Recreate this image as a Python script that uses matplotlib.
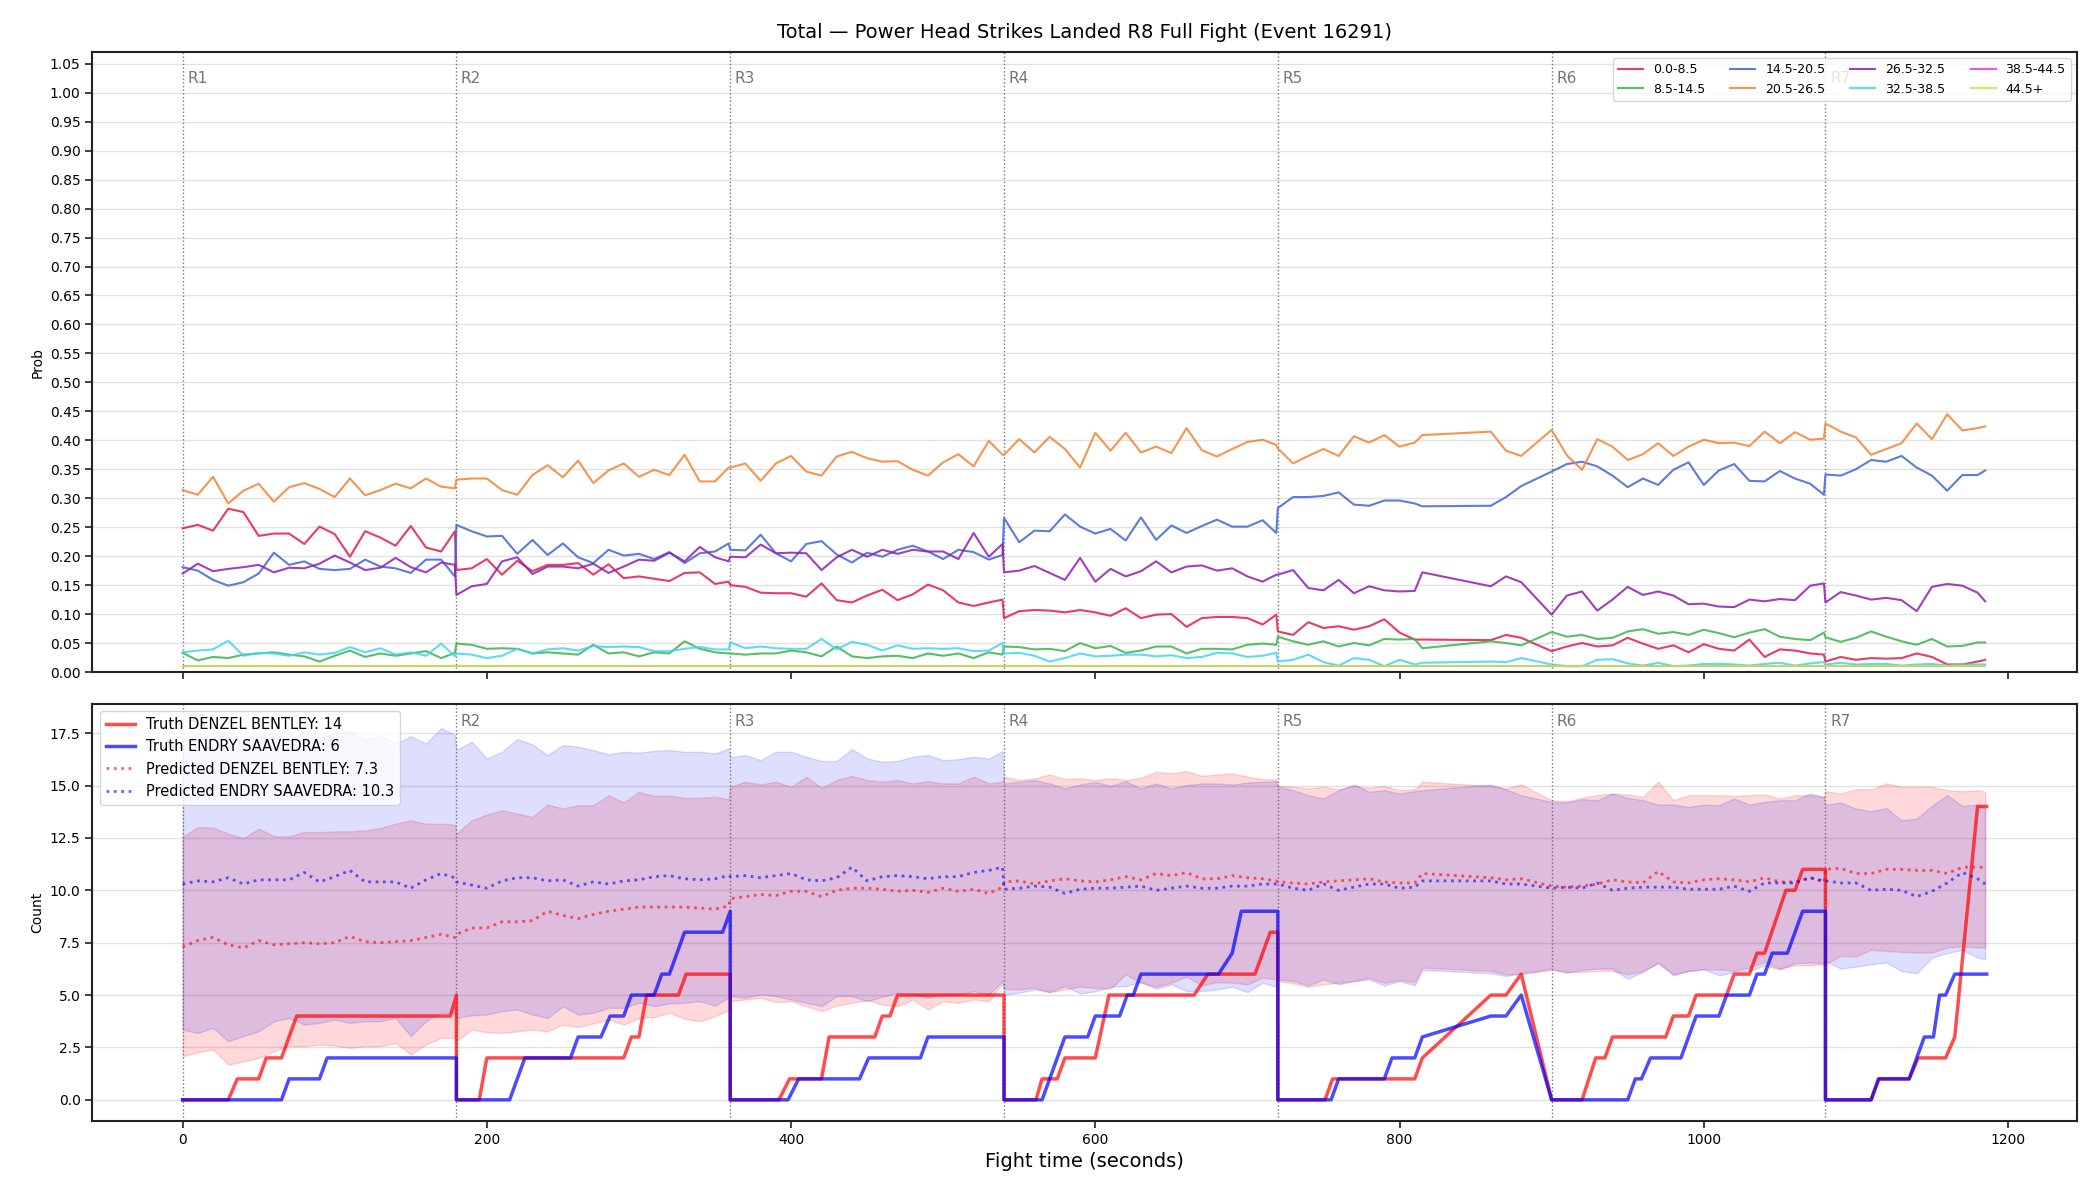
import numpy as np
import matplotlib
matplotlib.use("Agg")
import matplotlib.pyplot as plt
import matplotlib.transforms as mtransforms
from matplotlib.lines import Line2D

title = "Total \u2014 Power Head Strikes Landed R8 Full Fight (Event 16291)"
round_starts = [0, 180, 360, 540, 720, 900, 1080]
round_labels = ["R1", "R2", "R3", "R4", "R5", "R6", "R7"]

# sample times (seconds)
t = [0, 10, 20, 30, 40, 50, 60, 70, 80, 90, 100, 110, 120, 130, 140, 150, 160, 170, 179,
     180, 190, 200, 210, 220, 230, 240, 250, 260, 270, 280, 290, 300, 310, 320, 330, 340, 350, 359,
     360, 370, 380, 390, 400, 410, 420, 430, 440, 450, 460, 470, 480, 490, 500, 510, 520, 530, 539,
     540, 550, 560, 570, 580, 590, 600, 610, 620, 630, 640, 650, 660, 670, 680, 690, 700, 710, 719,
     720, 730, 740, 750, 760, 770, 780, 790, 800, 810, 815, 860, 870, 880,
     900, 910, 920, 930, 940, 950, 960, 970, 980, 990, 1000, 1010, 1020, 1030, 1040, 1050, 1060, 1070, 1079,
     1080, 1090, 1100, 1110, 1120, 1130, 1140, 1150, 1160, 1170, 1180, 1185]

bins = ["0.0-8.5", "8.5-14.5", "14.5-20.5", "20.5-26.5",
        "26.5-32.5", "32.5-38.5", "38.5-44.5", "44.5+"]
bin_colors = ["#e6194b", "#3cb44b", "#4363d8", "#f58231",
              "#911eb4", "#42d4f4", "#f032e6", "#bfef45"]

p_0_8 = [0.248, 0.254, 0.244, 0.282, 0.276, 0.235, 0.239, 0.239, 0.221, 0.251, 0.238, 0.199, 0.243, 0.232, 0.218, 0.252, 0.215, 0.208, 0.243,
         0.176, 0.179, 0.195, 0.168, 0.192, 0.174, 0.185, 0.185, 0.188, 0.168, 0.186, 0.162, 0.165, 0.161, 0.157, 0.171, 0.172, 0.152, 0.156,
         0.150, 0.147, 0.137, 0.136, 0.136, 0.130, 0.153, 0.124, 0.120, 0.132, 0.142, 0.124, 0.134, 0.151, 0.141, 0.120, 0.114, 0.120, 0.125,
         0.093, 0.105, 0.107, 0.106, 0.103, 0.107, 0.103, 0.097, 0.110, 0.093, 0.099, 0.100, 0.078, 0.093, 0.095, 0.095, 0.093, 0.082, 0.099,
         0.070, 0.064, 0.086, 0.076, 0.079, 0.073, 0.079, 0.091, 0.068, 0.056, 0.056, 0.055, 0.064, 0.059,
         0.036, 0.044, 0.050, 0.044, 0.046, 0.059, 0.049, 0.040, 0.046, 0.034, 0.048, 0.040, 0.037, 0.056, 0.026, 0.039, 0.037, 0.032, 0.030,
         0.018, 0.026, 0.021, 0.024, 0.023, 0.024, 0.032, 0.026, 0.013, 0.013, 0.018, 0.021]

p_8_14 = [0.033, 0.020, 0.026, 0.024, 0.030, 0.032, 0.034, 0.030, 0.027, 0.018, 0.028, 0.037, 0.026, 0.032, 0.028, 0.032, 0.036, 0.024, 0.033,
          0.049, 0.047, 0.040, 0.041, 0.040, 0.032, 0.034, 0.032, 0.030, 0.047, 0.032, 0.034, 0.027, 0.034, 0.032, 0.053, 0.040, 0.034, 0.032,
          0.032, 0.030, 0.032, 0.032, 0.037, 0.034, 0.027, 0.044, 0.027, 0.024, 0.027, 0.028, 0.024, 0.032, 0.028, 0.032, 0.024, 0.034, 0.030,
          0.044, 0.043, 0.039, 0.040, 0.036, 0.050, 0.041, 0.045, 0.033, 0.037, 0.044, 0.044, 0.032, 0.040, 0.040, 0.039, 0.047, 0.049, 0.047,
          0.061, 0.053, 0.047, 0.053, 0.044, 0.050, 0.046, 0.057, 0.056, 0.057, 0.041, 0.053, 0.050, 0.046,
          0.069, 0.061, 0.064, 0.057, 0.059, 0.070, 0.074, 0.066, 0.069, 0.064, 0.073, 0.067, 0.060, 0.068, 0.074, 0.061, 0.057, 0.055, 0.068,
          0.060, 0.052, 0.059, 0.070, 0.061, 0.053, 0.047, 0.057, 0.044, 0.045, 0.051, 0.051]

p_14_20 = [0.181, 0.175, 0.159, 0.149, 0.155, 0.170, 0.206, 0.185, 0.191, 0.178, 0.176, 0.178, 0.194, 0.182, 0.179, 0.171, 0.194, 0.194, 0.165,
           0.254, 0.243, 0.234, 0.235, 0.204, 0.228, 0.202, 0.222, 0.198, 0.188, 0.211, 0.201, 0.204, 0.195, 0.207, 0.188, 0.205, 0.208, 0.222,
           0.211, 0.210, 0.237, 0.205, 0.191, 0.221, 0.226, 0.203, 0.189, 0.206, 0.199, 0.211, 0.218, 0.208, 0.195, 0.211, 0.207, 0.194, 0.202,
           0.266, 0.224, 0.244, 0.243, 0.272, 0.251, 0.239, 0.247, 0.227, 0.267, 0.228, 0.253, 0.240, 0.252, 0.263, 0.251, 0.251, 0.262, 0.240,
           0.283, 0.302, 0.302, 0.304, 0.310, 0.289, 0.287, 0.296, 0.296, 0.291, 0.286, 0.287, 0.302, 0.321,
           0.346, 0.359, 0.363, 0.355, 0.339, 0.319, 0.334, 0.323, 0.349, 0.362, 0.323, 0.348, 0.359, 0.330, 0.329, 0.347, 0.334, 0.325, 0.306,
           0.341, 0.339, 0.350, 0.366, 0.363, 0.373, 0.353, 0.339, 0.313, 0.340, 0.340, 0.348]

p_20_26 = [0.314, 0.306, 0.337, 0.291, 0.313, 0.325, 0.294, 0.319, 0.326, 0.316, 0.302, 0.334, 0.305, 0.314, 0.325, 0.317, 0.334, 0.320, 0.317,
           0.332, 0.334, 0.334, 0.314, 0.306, 0.340, 0.357, 0.336, 0.365, 0.326, 0.348, 0.360, 0.337, 0.349, 0.340, 0.375, 0.329, 0.329, 0.353,
           0.353, 0.360, 0.330, 0.360, 0.373, 0.346, 0.339, 0.372, 0.380, 0.369, 0.363, 0.364, 0.349, 0.339, 0.362, 0.376, 0.355, 0.399, 0.375,
           0.375, 0.402, 0.379, 0.406, 0.385, 0.353, 0.413, 0.382, 0.413, 0.379, 0.389, 0.378, 0.421, 0.383, 0.372, 0.385, 0.397, 0.401, 0.392,
           0.386, 0.360, 0.373, 0.385, 0.373, 0.407, 0.396, 0.409, 0.389, 0.396, 0.409, 0.415, 0.382, 0.373,
           0.418, 0.374, 0.349, 0.402, 0.389, 0.366, 0.376, 0.395, 0.373, 0.389, 0.401, 0.395, 0.396, 0.390, 0.415, 0.395, 0.414, 0.401, 0.403,
           0.429, 0.415, 0.405, 0.375, 0.385, 0.395, 0.429, 0.402, 0.445, 0.417, 0.421, 0.424]

p_26_32 = [0.170, 0.187, 0.174, 0.178, 0.181, 0.185, 0.172, 0.180, 0.179, 0.187, 0.201, 0.189, 0.176, 0.180, 0.197, 0.181, 0.172, 0.189, 0.185,
           0.133, 0.148, 0.152, 0.191, 0.198, 0.169, 0.182, 0.182, 0.179, 0.187, 0.171, 0.182, 0.194, 0.192, 0.206, 0.191, 0.216, 0.198, 0.191,
           0.199, 0.198, 0.220, 0.205, 0.206, 0.205, 0.176, 0.198, 0.211, 0.199, 0.211, 0.204, 0.211, 0.208, 0.208, 0.195, 0.240, 0.199, 0.221,
           0.172, 0.175, 0.183, 0.171, 0.159, 0.197, 0.156, 0.178, 0.165, 0.174, 0.191, 0.172, 0.182, 0.184, 0.175, 0.179, 0.165, 0.156, 0.168,
           0.168, 0.176, 0.145, 0.141, 0.159, 0.136, 0.148, 0.141, 0.139, 0.140, 0.172, 0.148, 0.165, 0.155,
           0.099, 0.132, 0.139, 0.106, 0.125, 0.147, 0.133, 0.139, 0.132, 0.117, 0.118, 0.113, 0.112, 0.125, 0.122, 0.126, 0.124, 0.149, 0.153,
           0.120, 0.138, 0.132, 0.125, 0.128, 0.124, 0.105, 0.147, 0.152, 0.149, 0.137, 0.122]

p_32_38 = [0.034, 0.037, 0.039, 0.054, 0.028, 0.033, 0.032, 0.028, 0.034, 0.030, 0.033, 0.043, 0.034, 0.041, 0.030, 0.034, 0.028, 0.049, 0.027,
           0.032, 0.030, 0.024, 0.028, 0.040, 0.032, 0.039, 0.041, 0.037, 0.045, 0.043, 0.044, 0.043, 0.036, 0.036, 0.040, 0.043, 0.039, 0.039,
           0.051, 0.041, 0.044, 0.041, 0.040, 0.040, 0.057, 0.039, 0.052, 0.047, 0.037, 0.046, 0.040, 0.041, 0.040, 0.041, 0.036, 0.037, 0.050,
           0.032, 0.033, 0.028, 0.018, 0.024, 0.032, 0.027, 0.028, 0.030, 0.030, 0.027, 0.029, 0.024, 0.026, 0.033, 0.032, 0.026, 0.028, 0.033,
           0.018, 0.021, 0.030, 0.017, 0.011, 0.024, 0.021, 0.010, 0.021, 0.013, 0.016, 0.018, 0.017, 0.024,
           0.013, 0.010, 0.010, 0.021, 0.022, 0.015, 0.011, 0.016, 0.010, 0.011, 0.014, 0.014, 0.013, 0.011, 0.014, 0.016, 0.011, 0.015, 0.017,
           0.013, 0.016, 0.013, 0.014, 0.014, 0.011, 0.013, 0.014, 0.011, 0.013, 0.013, 0.013]

# the two top bins sit flat at about 0.01 the whole fight
p_38_44 = [0.010] * len(t)
p_44_up = [0.010] * len(t)

probs = [p_0_8, p_8_14, p_14_20, p_20_26, p_26_32, p_32_38, p_38_44, p_44_up]

# truth, cumulative per round
fighter_a = "DENZEL BENTLEY"
fighter_b = "ENDRY SAAVEDRA"
truth_a_t = [0, 30, 36, 50, 55, 65, 75, 176, 180,
             180, 195, 200, 290, 295, 300, 305, 326, 331, 360,
             360, 392, 399, 420, 425, 455, 460, 465, 470, 540,
             540, 561, 565, 575, 580, 600, 609, 665, 674, 705, 715, 720,
             720, 751, 756, 810, 815, 860, 870, 880,
             900, 920, 929, 935, 940, 975, 980, 990, 995, 1015, 1020, 1030, 1035, 1040, 1054, 1060, 1065, 1080,
             1080, 1110, 1115, 1135, 1141, 1159, 1165, 1180, 1186]
truth_a = [0, 0, 1, 1, 2, 2, 4, 4, 5,
           0, 0, 2, 2, 3, 3, 5, 5, 6, 6,
           0, 0, 1, 1, 3, 3, 4, 4, 5, 5,
           0, 0, 1, 1, 2, 2, 5, 5, 6, 6, 8, 8,
           0, 0, 1, 1, 2, 5, 5, 6,
           0, 0, 2, 2, 3, 3, 4, 4, 5, 5, 6, 6, 7, 7, 10, 10, 11, 11,
           0, 0, 1, 1, 2, 2, 3, 14, 14]
truth_b_t = [0, 65, 70, 90, 95, 180,
             180, 215, 225, 255, 260, 275, 281, 290, 295, 310, 315, 320, 330, 355, 360,
             360, 398, 405, 445, 451, 485, 490, 540,
             540, 565, 580, 595, 600, 616, 621, 625, 630, 681, 690, 696, 720,
             720, 755, 760, 790, 795, 810, 815, 860, 870, 880,
             900, 950, 955, 959, 965, 985, 995, 1010, 1015, 1030, 1035, 1040, 1045, 1055, 1065, 1080,
             1080, 1110, 1115, 1135, 1145, 1151, 1155, 1159, 1165, 1186]
truth_b = [0, 0, 1, 1, 2, 2,
           0, 0, 2, 2, 3, 3, 4, 4, 5, 5, 6, 6, 8, 8, 9,
           0, 0, 1, 1, 2, 2, 3, 3,
           0, 0, 3, 3, 4, 4, 5, 5, 6, 6, 7, 9, 9,
           0, 0, 1, 1, 2, 2, 3, 4, 4, 5,
           0, 0, 1, 1, 2, 2, 4, 4, 5, 5, 6, 6, 7, 7, 9, 9,
           0, 0, 1, 1, 3, 3, 5, 5, 6, 6]

pred_a = [7.3, 7.6, 7.75, 7.4, 7.25, 7.6, 7.4, 7.45, 7.5, 7.45, 7.5, 7.8, 7.55, 7.5, 7.55, 7.6, 7.75, 7.9, 7.75,
          7.9, 8.2, 8.2, 8.5, 8.5, 8.55, 9.0, 8.8, 8.65, 8.85, 9.0, 9.1, 9.2, 9.2, 9.2, 9.2, 9.15, 9.1, 9.25,
          9.6, 9.7, 9.8, 9.75, 9.95, 9.95, 9.7, 10.0, 10.1, 10.1, 10.05, 9.95, 10.0, 9.9, 10.1, 9.95, 10.05, 9.85, 10.15,
          10.4, 10.45, 10.3, 10.45, 10.55, 10.45, 10.4, 10.5, 10.65, 10.5, 10.8, 10.7, 10.85, 10.55, 10.55, 10.7, 10.6, 10.55, 10.45,
          10.4, 10.35, 10.3, 10.4, 10.45, 10.5, 10.55, 10.4, 10.35, 10.35, 10.8, 10.6, 10.5, 10.55,
          10.2, 10.15, 10.2, 10.3, 10.5, 10.4, 10.35, 10.9, 10.4, 10.35, 10.5, 10.55, 10.5, 10.4, 10.6, 10.4, 10.4, 10.6, 10.4,
          11.0, 11.05, 10.8, 10.8, 11.0, 11.0, 10.95, 10.95, 10.8, 11.1, 11.1, 11.1]
pred_b = [10.3, 10.45, 10.4, 10.6, 10.3, 10.5, 10.5, 10.5, 10.85, 10.4, 10.65, 10.95, 10.4, 10.4, 10.4, 10.1, 10.5, 10.8, 10.6,
          10.4, 10.25, 10.1, 10.45, 10.6, 10.6, 10.45, 10.5, 10.2, 10.4, 10.3, 10.45, 10.5, 10.65, 10.7, 10.55, 10.5, 10.55, 10.7,
          10.65, 10.7, 10.6, 10.7, 10.8, 10.5, 10.45, 10.6, 11.1, 10.45, 10.65, 10.7, 10.65, 10.55, 10.65, 10.65, 10.85, 10.95, 11.1,
          10.05, 10.1, 10.2, 10.15, 9.85, 10.05, 10.1, 10.1, 10.15, 10.2, 10.0, 10.1, 10.2, 10.1, 10.1, 10.2, 10.2, 10.3, 10.3,
          10.3, 10.1, 10.0, 10.3, 10.0, 10.15, 10.3, 10.3, 10.1, 10.15, 10.45, 10.45, 10.3, 10.3,
          10.1, 10.15, 10.1, 10.35, 10.0, 10.1, 10.15, 10.15, 10.15, 10.05, 10.05, 10.05, 10.2, 9.95, 10.35, 10.35, 10.35, 10.6, 10.45,
          10.45, 10.35, 10.35, 10.0, 10.05, 10.0, 9.7, 9.95, 10.35, 10.85, 10.55, 10.3]

band_a_hi = [12.54, 13.02, 13.0, 12.7, 12.49, 12.94, 12.59, 12.57, 12.78, 12.78, 12.81, 12.81, 12.86, 12.97, 13.18, 13.34, 13.18, 13.18, 13.13,
             12.7, 13.34, 13.61, 13.82, 13.66, 13.5, 14.09, 13.9, 14.06, 14.06, 14.54, 14.19, 14.7, 14.5, 14.52, 14.41, 14.41, 14.46, 14.35,
             14.94, 15.18, 15.05, 15.18, 14.94, 15.42, 14.89, 15.26, 15.46, 15.26, 15.18, 15.26, 15.1, 15.21, 15.1, 15.1, 15.42, 15.1, 15.18,
             15.42, 15.26, 15.34, 15.53, 15.3, 15.34, 15.26, 15.34, 15.26, 15.37, 15.65, 15.58, 15.69, 15.46, 15.53, 15.58, 15.42, 15.3, 15.3,
             14.98, 14.94, 14.86, 14.94, 14.82, 14.98, 14.89, 14.98, 14.78, 14.82, 15.18, 14.98, 14.86, 15.05,
             14.3, 14.25, 14.41, 14.54, 14.62, 14.57, 14.46, 15.18, 14.3, 14.54, 14.54, 14.54, 14.5, 14.54, 14.57, 14.38, 14.54, 14.54, 14.46,
             14.73, 14.62, 14.82, 14.82, 15.1, 14.94, 14.94, 14.94, 14.78, 14.73, 14.78, 14.7]
band_a_lo = [2.08, 2.27, 2.4, 1.68, 1.84, 2.0, 2.32, 2.56, 2.56, 2.64, 2.59, 2.48, 2.56, 2.56, 2.72, 2.16, 2.64, 2.96, 2.96,
             2.8, 3.35, 3.23, 3.19, 3.27, 3.35, 3.27, 3.59, 3.48, 3.64, 3.83, 3.59, 3.91, 3.95, 4.15, 3.87, 3.75, 3.99, 4.28,
             4.71, 4.79, 4.87, 4.66, 4.71, 4.47, 4.23, 4.5, 4.63, 4.76, 4.55, 4.47, 4.79, 4.31, 4.71, 4.63, 4.79, 4.71, 5.56,
             5.3, 5.27, 5.35, 5.14, 5.27, 5.4, 5.34, 5.3, 5.99, 5.59, 5.4, 5.59, 5.88, 5.46, 5.62, 5.59, 5.51, 5.83, 5.75,
             5.67, 5.56, 5.4, 5.51, 5.59, 5.67, 5.83, 5.59, 5.72, 5.62, 6.31, 6.15, 5.99, 5.99,
             6.2, 6.1, 6.1, 6.15, 6.15, 5.99, 6.15, 6.52, 5.99, 6.15, 6.23, 6.23, 6.15, 6.31, 6.58, 6.26, 6.42, 6.42, 6.47,
             6.47, 6.87, 6.84, 7.16, 7.11, 7.06, 7.03, 7.03, 7.27, 7.32, 7.27, 7.27]
band_b_hi = [17.2, 17.5, 17.3, 17.6, 17.0, 17.4, 17.5, 17.2, 17.6, 17.3, 17.5, 17.6, 17.2, 17.4, 17.0, 17.35, 17.0, 17.75, 17.4,
             16.69, 17.09, 16.29, 16.61, 17.22, 16.96, 16.45, 16.93, 16.85, 16.69, 16.49, 16.61, 16.57, 16.65, 16.69, 16.61, 16.61, 16.53, 16.77,
             16.37, 16.45, 16.21, 16.61, 16.61, 16.37, 16.17, 16.17, 16.74, 16.29, 16.13, 16.17, 16.37, 16.45, 16.21, 16.26, 16.37, 16.29, 16.65,
             15.1, 15.18, 15.26, 15.1, 14.86, 15.05, 15.18, 14.98, 15.21, 14.86, 15.1, 14.86, 15.02, 15.1, 15.1, 15.05, 15.14, 15.18, 15.21,
             14.94, 14.78, 14.54, 14.38, 14.78, 15.05, 14.7, 14.78, 14.62, 14.73, 14.78, 15.05, 14.82, 14.54,
             14.22, 14.19, 14.35, 14.3, 14.62, 14.41, 14.3, 14.09, 14.09, 13.98, 14.09, 14.06, 14.38, 14.09, 14.22, 14.3, 14.3, 14.62, 14.46,
             14.09, 14.19, 13.9, 13.77, 13.93, 13.34, 13.42, 14.03, 14.54, 14.03, 14.09, 13.9]
band_b_lo = [3.35, 3.19, 3.43, 2.8, 3.04, 3.27, 3.75, 3.91, 3.59, 3.67, 3.83, 3.67, 3.75, 3.75, 3.91, 3.04, 3.75, 4.15, 4.15,
             3.91, 4.03, 4.07, 4.23, 4.31, 4.07, 3.91, 4.47, 4.07, 4.15, 4.39, 4.39, 4.63, 4.47, 4.6, 4.63, 4.71, 4.5, 4.87,
             4.95, 4.87, 5.03, 4.95, 4.79, 4.63, 4.47, 4.95, 4.95, 4.71, 4.92, 5.11, 5.03, 4.87, 5.03, 5.03, 5.19, 5.03, 5.67,
             5.03, 5.11, 5.27, 5.14, 5.43, 5.08, 5.18, 5.4, 5.43, 5.62, 5.3, 5.51, 5.19, 5.19, 5.27, 5.4, 5.14, 5.59, 5.4,
             5.75, 5.67, 5.46, 5.75, 5.51, 5.67, 5.75, 5.46, 5.67, 5.46, 6.2, 6.04, 5.91, 6.04,
             6.26, 6.07, 6.2, 6.26, 6.26, 5.78, 6.1, 6.55, 5.94, 6.15, 6.23, 5.94, 6.1, 6.15, 6.42, 6.23, 6.52, 6.55, 6.52,
             6.63, 6.26, 6.36, 6.47, 6.55, 6.15, 6.04, 6.79, 7.0, 7.16, 6.79, 6.71]


fig = plt.figure(figsize=(21, 12), dpi=100)
ax1 = fig.add_axes([0.044, 0.44, 0.945, 0.5165])
ax2 = fig.add_axes([0.044, 0.066, 0.945, 0.3475], sharex=ax1)

for ax in (ax1, ax2):
    ax.set_axisbelow(True)
    ax.grid(axis="y", color="#e2e2e2", linewidth=1.0)
    for sp in ax.spines.values():
        sp.set_linewidth(1.5)
        sp.set_color("#222222")
    ax.tick_params(labelsize=10, width=1.2, length=5, color="#222222")

# top panel: probabilities per bin
for name, vals, col in zip(bins, probs, bin_colors):
    ax1.plot(t, vals, color=col, lw=1.5, alpha=0.85, label=name)

ax1.set_ylim(0, 1.07)
ax1.set_yticks(np.arange(0, 1.051, 0.05))
ax1.yaxis.set_major_formatter(matplotlib.ticker.FormatStrFormatter("%.2f"))
ax1.set_ylabel("Prob", fontsize=10)
ax1.set_title(title, fontsize=14, pad=10)
ax1.legend(loc="upper right", ncol=4, fontsize=9, framealpha=0.8)
plt.setp(ax1.get_xticklabels(), visible=False)

# bottom panel: counts
ax2.fill_between(t, band_a_lo, band_a_hi, color="red", alpha=0.15)
ax2.fill_between(t, band_b_lo, band_b_hi, color="blue", alpha=0.13)
ax2.plot(truth_a_t, truth_a, color="red", lw=2.5, alpha=0.7)
ax2.plot(truth_b_t, truth_b, color="blue", lw=2.5, alpha=0.7)
ax2.plot(t, pred_a, color="red", lw=2, ls=":", alpha=0.6)
ax2.plot(t, pred_b, color="blue", lw=2, ls=":", alpha=0.6)

handles = [
    Line2D([], [], color="red", lw=2.5, alpha=0.7),
    Line2D([], [], color="blue", lw=2.5, alpha=0.7),
    Line2D([], [], color="red", lw=2, ls=":", alpha=0.6),
    Line2D([], [], color="blue", lw=2, ls=":", alpha=0.6),
]
labels = [
    f"Truth {fighter_a}: {truth_a[-1]}",
    f"Truth {fighter_b}: {truth_b[-1]}",
    f"Predicted {fighter_a}: {pred_a[0]:.1f}",
    f"Predicted {fighter_b}: {pred_b[0]:.1f}",
]
ax2.legend(handles, labels, loc="upper left", fontsize=10.5, framealpha=0.8)
ax2.set_ylim(-1.0, 18.9)
ax2.set_ylabel("Count", fontsize=10)
ax2.set_xlabel("Fight time (seconds)", fontsize=14)

# round markers
for ax in (ax1, ax2):
    trans = mtransforms.blended_transform_factory(ax.transData, ax.transAxes)
    for rs, rl in zip(round_starts, round_labels):
        ax.axvline(rs, color="#555555", ls=":", lw=1, alpha=0.8, zorder=1)
        ax.text(rs + 3, 0.957, rl, transform=trans, fontsize=11,
                color="#666666", alpha=0.9, va="center", ha="left", zorder=1)

fig.savefig("out.png", dpi=100)
